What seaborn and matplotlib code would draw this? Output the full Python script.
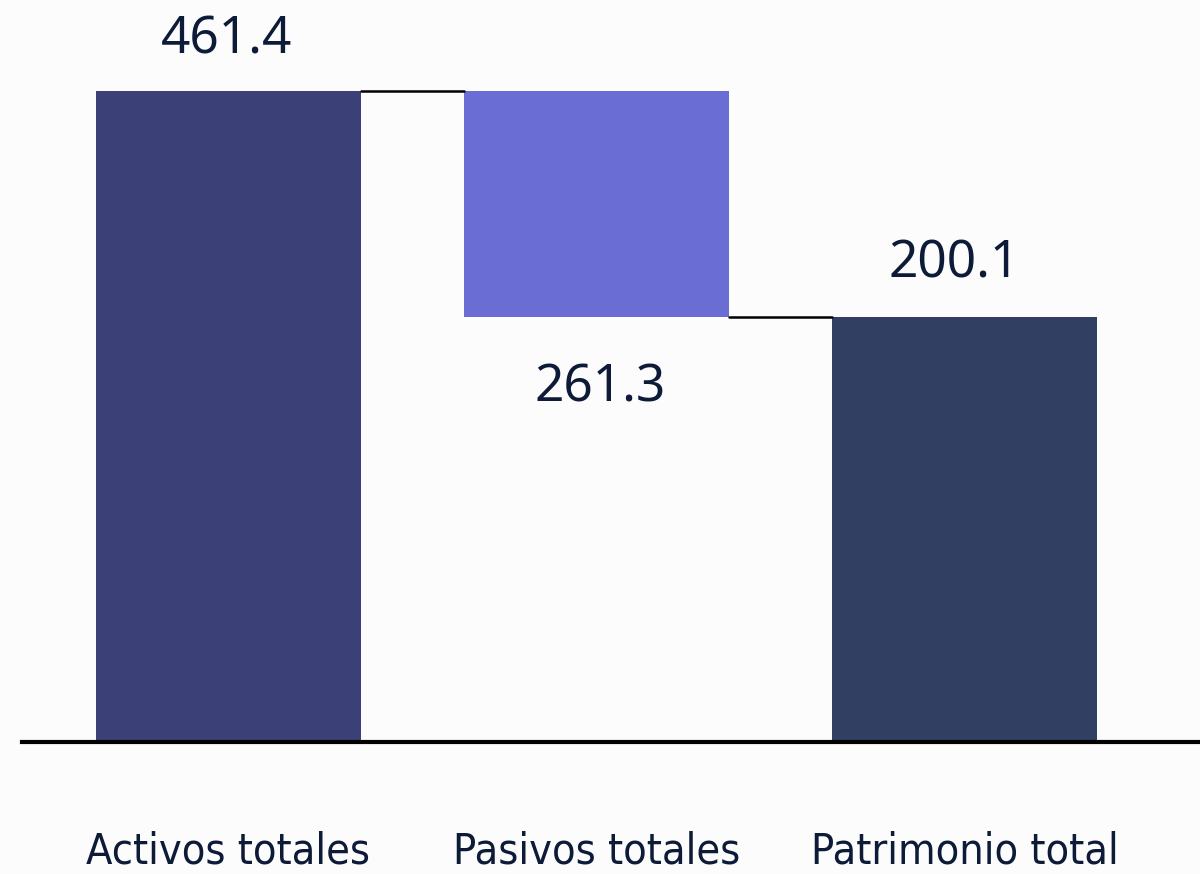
import seaborn as sns
import matplotlib.pyplot as plt

categorias = ['Activos totales', 'Pasivos totales', 'Patrimonio total']
tope = [461.4, 461.4, 200.1]      # extremo superior de cada barra
piso = [None, 200.1, None]        # extremo inferior (None = base del eje)
valores = [461.4, 261.3, 200.1]   # etiquetas
colores = ['#3b4176', '#696dd4', '#303f62']

base = -292.2   # el eje no parte de cero en el original
techo = 566.7

sns.set_style('white')
plt.rcParams['font.family'] = ['Noto Sans', 'DejaVu Sans']

fig = plt.figure(figsize=(12, 8.74), dpi=100, facecolor='#fcfcfc')
ax = fig.add_axes([22 / 1200, 132 / 874, 1178 / 1200, 742 / 874])
ax.set_facecolor('none')

bottoms = [base if p is None else p for p in piso]
alturas = [t - b for t, b in zip(tope, bottoms)]

sns.barplot(x=categorias, y=alturas, bottom=bottoms, width=0.72,
            color=colores[0], saturation=1, ax=ax)
for barra, c in zip(ax.patches, colores):
    barra.set_facecolor(c)
    barra.set_edgecolor('none')

# conectores del waterfall
ax.plot([0.36, 1 - 0.36], [tope[0], tope[1]], color='black', lw=1.8)
ax.plot([1.36, 2 - 0.36], [piso[1], tope[2]], color='black', lw=1.8)

txt = '#0d1b38'
ax.annotate(f'{valores[0]}', (0, tope[0]), xytext=(-2, 51), textcoords='offset pixels',
            ha='center', va='center', fontsize=37, color=txt)
ax.annotate(f'{valores[1]}', (1, piso[1]), xytext=(4, -71), textcoords='offset pixels',
            ha='center', va='center', fontsize=37, color=txt)
ax.annotate(f'{valores[2]}', (2, tope[2]), xytext=(-10, 53), textcoords='offset pixels',
            ha='center', va='center', fontsize=37, color=txt)

ax.set_xlim(-0.561, 2.64)
ax.set_ylim(base, techo)
ax.set_yticks([])
ax.set_xlabel('')
ax.set_ylabel('')
for s in ['top', 'left', 'right']:
    ax.spines[s].set_visible(False)
ax.spines['bottom'].set_linewidth(3)
ax.spines['bottom'].set_color('black')
ax.tick_params(axis='x', length=0, pad=64, labelsize=31, labelcolor=txt)
for lab in ax.get_xticklabels():
    lab.set_family('DejaVu Sans')
    lab.set_fontstretch('condensed')

fig.savefig('out.png', dpi=100, facecolor=fig.get_facecolor())
